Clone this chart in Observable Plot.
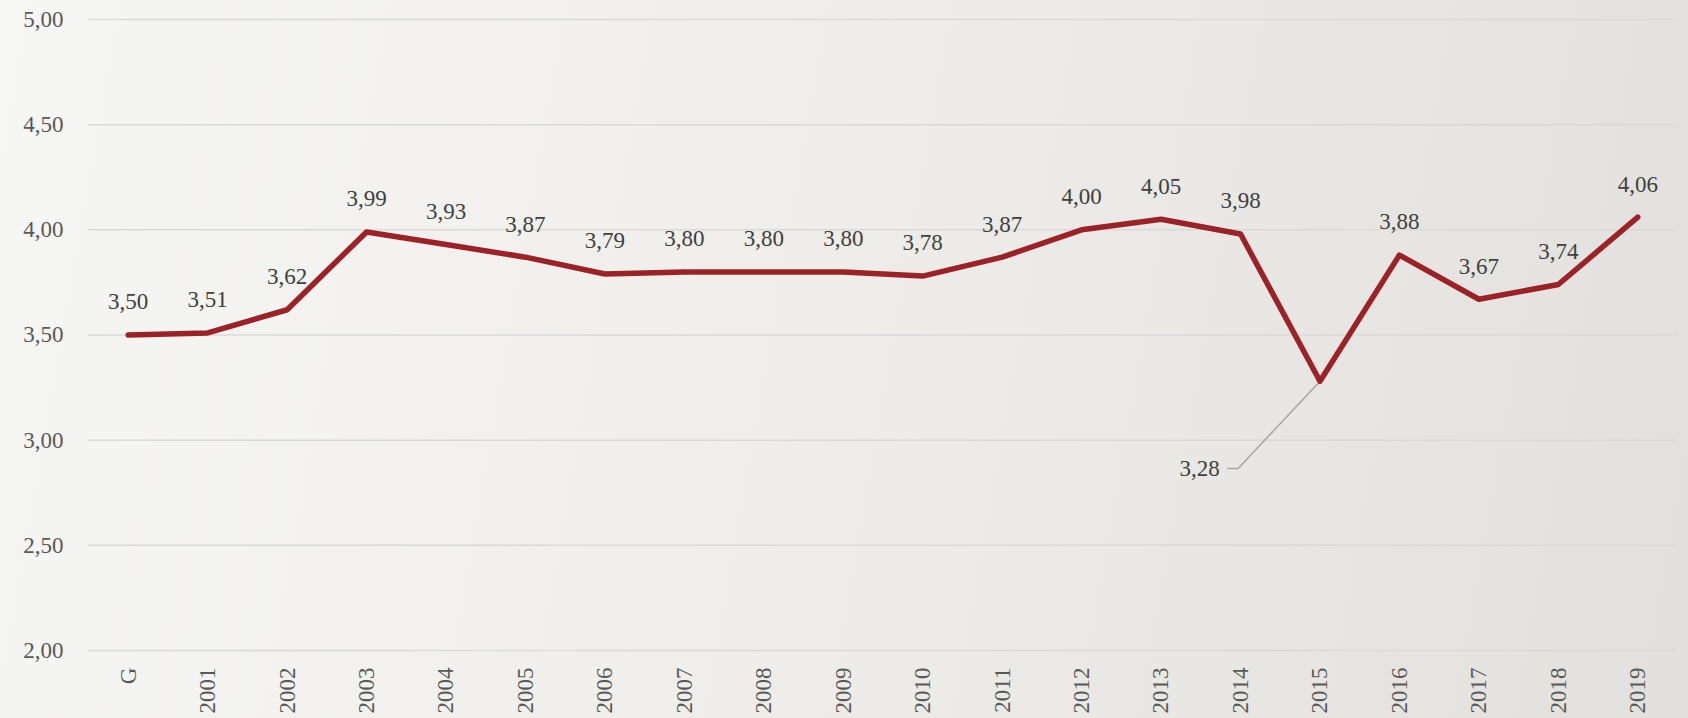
<!DOCTYPE html>
<html>
<head>
<meta charset="utf-8">
<script src="https://cdn.jsdelivr.net/npm/d3@7"></script>
<script src="https://cdn.jsdelivr.net/npm/@observablehq/plot@0.6"></script>
<style>
  html, body { margin: 0; padding: 0; }
  body {
    width: 1688px; height: 718px; overflow: hidden;
    background: linear-gradient(100deg, #f6f6f4 0%, #efeeeb 45%, #e2e0dc 100%);
  }
  svg { display: block; }
</style>
</head>
<body>
<div id="chart"></div>
<script>
const categories = ["G","2001","2002","2003","2004","2005","2006","2007","2008","2009","2010","2011","2012","2013","2014","2015","2016","2017","2018","2019"];
const values = [3.50,3.51,3.62,3.99,3.93,3.87,3.79,3.80,3.80,3.80,3.78,3.87,4.00,4.05,3.98,3.28,3.88,3.67,3.74,4.06];
const yTicks = [2.0, 2.5, 3.0, 3.5, 4.0, 4.5, 5.0];
// callout for the 2015 minimum (label placed below-left with a leader line)
const calloutIndex = 15;
const calloutLeader = [
  {x: 15, y: 3.28},
  {x: 13.97, y: 2.865},
  {x: 13.84, y: 2.865}
];
const calloutLabel = [{x: 13.74, y: 2.865}];

const fmt = d => d.toFixed(2).replace(".", ",");
const data = categories.map((c, i) => ({i, c, v: values[i]}));

const chart = Plot.plot({
  width: 1688,
  height: 718,
  marginLeft: 88,
  marginRight: 11,
  marginTop: 19,
  marginBottom: 68,
  style: {background: "transparent", fontFamily: "'Liberation Serif', serif"},
  x: {type: "linear", domain: [-0.5, 19.5]},
  y: {domain: [2, 5]},
  marks: [
    Plot.gridY(yTicks, {stroke: "#d9d9d9", strokeOpacity: 1, strokeWidth: 1.5}),
    Plot.axisY(yTicks, {tickSize: 0, tickPadding: 25, tickFormat: fmt, fontSize: 23, fill: "#595959", label: null}),
    Plot.axisX(d3.range(categories.length), {tickSize: 0, tickPadding: 17, tickRotate: -90, tickFormat: i => categories[i], fontSize: 23, fill: "#595959", label: null}),
    Plot.line(calloutLeader, {x: "x", y: "y", stroke: "#a6a6a6", strokeWidth: 1.5, curve: "linear"}),
    Plot.line(data, {x: "i", y: "v", stroke: "#9b2226", strokeWidth: 5.5, strokeLinejoin: "round", strokeLinecap: "round"}),
    Plot.text(data.filter(d => d.i !== calloutIndex), {x: "i", y: "v", text: d => fmt(d.v), dy: -33, fontSize: 23, fill: "#404040"}),
    Plot.text(calloutLabel, {x: "x", y: "y", text: () => fmt(values[calloutIndex]), textAnchor: "end", fontSize: 23, fill: "#404040"})
  ]
});
document.getElementById("chart").appendChild(chart);
</script>
</body>
</html>
